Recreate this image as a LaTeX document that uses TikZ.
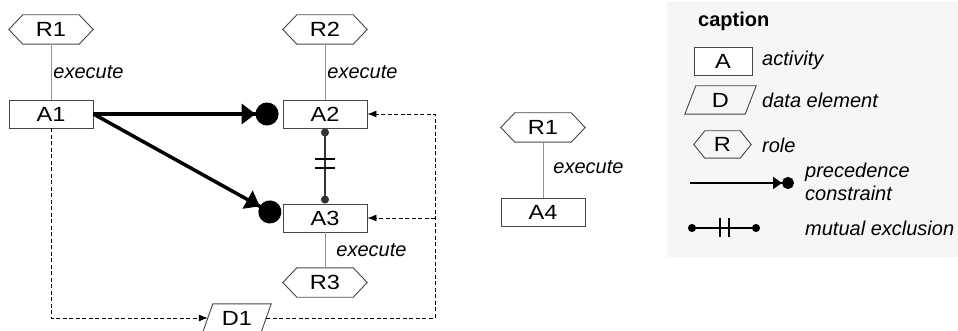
\documentclass[tikz,border=0pt]{standalone}
\usepackage{fontspec}
\setmainfont{Liberation Sans}
\newfontfamily\boxfont{Liberation Sans}[FakeStretch=1.15]
\usetikzlibrary{arrows.meta}
\definecolor{legbg}{RGB}{246,246,246}
\definecolor{edgec}{RGB}{70,70,70}
\newcommand\drawhex[2]{\draw[shapeline] (#1.west) -- ([xshift=#2]#1.north west) -- ([xshift=-#2]#1.north east) -- (#1.east) -- ([xshift=-#2]#1.south east) -- ([xshift=#2]#1.south west) -- cycle;}
\newcommand\drawpar[2]{\draw[shapeline] ([xshift=#2]#1.north west) -- (#1.north east) -- ([xshift=-#2]#1.south east) -- (#1.south west) -- cycle;}
\begin{document}
\begin{tikzpicture}[x=1pt,y=-1pt,
  lbl/.style={font=\boxfont\fontsize{20.5}{22}\selectfont},
  shapeline/.style={draw=edgec, line width=0.9pt},
  act/.style={shapeline, fill=white, minimum width=84pt, minimum height=28pt, inner sep=0pt, lbl},
  rolebox/.style={minimum width=84pt, minimum height=29pt, inner sep=0pt, lbl},
  databox/.style={minimum width=68pt, minimum height=28pt, inner sep=0pt, lbl},
  execlbl/.style={font=\fontsize{20}{22}\selectfont\itshape, inner sep=2pt},
  assign/.style={draw=gray!85, line width=0.8pt},
  flow/.style={draw=black, line width=0.8pt, dash pattern=on 4pt off 2.5pt, -{Latex[length=9pt,width=7pt]}},
  prec/.style={draw=black, line width=3.5pt, -{Triangle[length=14pt,width=20pt]Circle[length=23pt]}},
  mutex/.style={draw=black!80, line width=1.2pt, {Circle[length=8pt]}-{Circle[length=8pt]}},
  legtext/.style={font=\fontsize{20}{23}\selectfont\itshape, anchor=west, inner sep=0pt, align=left}
]
\useasboundingbox (0,0) rectangle (958,331);

% legend background
\fill[legbg] (667,2) rectangle (958,257);

% roles and activities
\node[rolebox] (R1) at (51,29.5) {R1};
\drawhex{R1}{14}
\node[act] (A1) at (51,114) {A1};
\node[rolebox] (R2) at (325,29.5) {R2};
\drawhex{R2}{14}
\node[act] (A2) at (325,114) {A2};
\node[act] (A3) at (325,218) {A3};
\node[rolebox] (R3) at (325,282.5) {R3};
\drawhex{R3}{14}
\node[rolebox] (R4) at (543,127.5) {R1};
\drawhex{R4}{14}
\node[act] (A4) at (543,212) {A4};

% data element
\node[databox] (D1) at (237,318) {D1};
\drawpar{D1}{10}

% execute relations
\draw[assign] (R1) -- node[right, execlbl] {execute} (A1);
\draw[assign] (R2) -- node[right, execlbl] {execute} (A2);
\draw[assign] (A3) -- node[right, execlbl, xshift=9pt] {execute} (R3);
\draw[assign] (R4) -- node[right, execlbl, xshift=8pt, yshift=3pt] {execute} (A4);

% precedence constraints
\draw[prec, shorten >=4pt] (A1.east) -- (A2.west);
\draw[prec, shorten >=3pt] (A1.east) -- ([yshift=-1pt]A3.west);

% mutual exclusion
\draw[mutex] (A2.south) -- coordinate[pos=0.47] (mx) (A3.north);
\draw[draw=black, line width=1.8pt] ([shift={(-10,-4.5)}]mx) -- ([shift={(10,-4.5)}]mx)
      ([shift={(-10,4.5)}]mx) -- ([shift={(10,4.5)}]mx);

% data flow
\coordinate (cb) at (435,318);
\draw[flow] (A1.south) |- ([xshift=5pt]D1.west);
\draw[flow] ([xshift=-5pt]D1.east) -| (cb |- A2.east) -- (A2.east);
\draw[flow] (cb |- A3.east) -- (A3.east);

% legend
\node[font=\fontsize{20}{22}\selectfont\bfseries, anchor=west, inner sep=0pt] (cap) at (698,21) {caption};
\node[act, minimum width=58pt, minimum height=28pt] (LA) at (723,61) {A};
\node[legtext] (LAt) at (762,60) {activity};
\node[databox, minimum width=71pt] (LD) at (720.5,100) {D};
\drawpar{LD}{11}
\node[legtext] (LDt) at (762,100) {data element};
\node[rolebox, minimum width=57pt, minimum height=27pt] (LR) at (722.5,144.5) {R};
\drawhex{LR}{11}
\node[legtext] (LRt) at (762,145) {role};
\coordinate (lp1) at (690,183);
\coordinate (lp2) at (794,183);
\draw[draw=black, line width=2pt, -{Triangle[length=9pt,width=12pt]Circle[length=12pt]}] (lp1) -- (lp2);
\node[legtext] (LPt) at (805,182) {precedence\\constraint};
\coordinate (lm1) at (688,228);
\coordinate (lm2) at (760,228);
\draw[draw=black, line width=1.2pt, {Circle[length=8pt]}-{Circle[length=8pt]}] (lm1) -- (lm2);
\draw[draw=black, line width=1.8pt] (720,218) -- (720,237) (729,218) -- (729,237);
\node[legtext] (LMt) at (805,228) {mutual exclusion};
\end{tikzpicture}
\end{document}
